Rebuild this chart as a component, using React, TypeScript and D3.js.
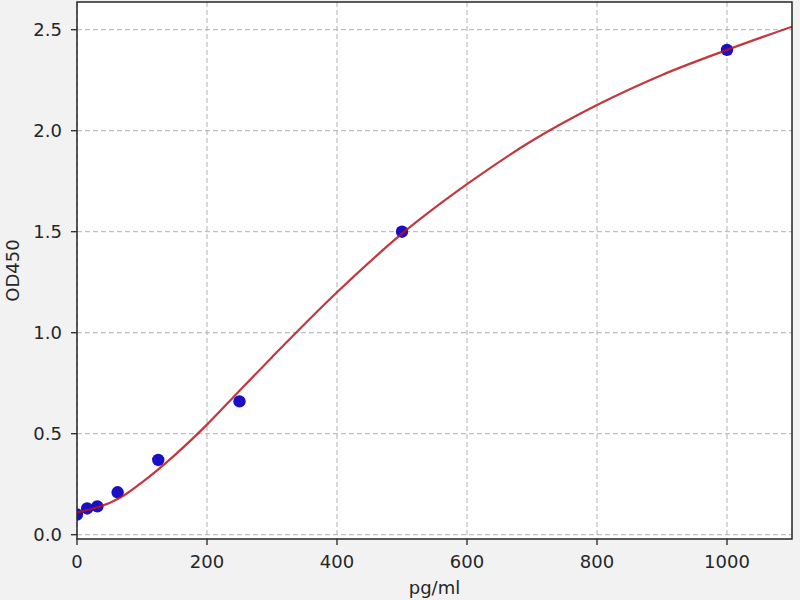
import React, { useEffect, useRef } from "react";
import * as d3 from "d3";

// Standard points (concentration pg/ml, OD450)
const concentrations = [0, 15.6, 31.25, 62.5, 125, 250, 500, 1000];
const odValues = [0.1, 0.13, 0.14, 0.21, 0.37, 0.66, 1.5, 2.4];

// Fitted curve
const curveX = [0, 25, 50, 75, 100, 150, 200, 250, 300, 400, 500, 600, 700, 800, 900, 1000, 1100];
const curveY = [0.11, 0.13, 0.157, 0.2, 0.259, 0.393, 0.545, 0.713, 0.879, 1.2, 1.49, 1.735, 1.95, 2.127, 2.276, 2.4, 2.515];

const xTicks = [0, 200, 400, 600, 800, 1000];
const yTicks = [0.0, 0.5, 1.0, 1.5, 2.0, 2.5];
const xLabel = "pg/ml";
const yLabel = "OD450";

export default function App() {
  const ref = useRef<SVGSVGElement | null>(null);

  useEffect(() => {
    const svg = d3.select(ref.current);
    svg.selectAll("*").remove();
    const W = 800, H = 600;
    const left = 77, right = 792, top = 2, bottom = 539;
    const font = "DejaVu Sans, sans-serif";
    const fs = 18;

    const x = d3.scaleLinear().domain([0, 1100]).range([left, right]);
    const y = d3.scaleLinear().domain([0, 2.5]).range([534.7, 29.7]);

    svg.append("rect").attr("width", W).attr("height", H).attr("fill", "#f2f2f2");
    svg.append("rect").attr("x", left).attr("y", top).attr("width", right - left).attr("height", bottom - top).attr("fill", "#ffffff");

    const defs = svg.append("defs");
    defs.append("clipPath").attr("id", "plotclip").append("rect")
      .attr("x", left).attr("y", top).attr("width", right - left).attr("height", bottom - top);

    // grid
    const g = svg.append("g");
    g.selectAll("line.gx").data(xTicks).enter().append("line")
      .attr("x1", d => x(d)).attr("x2", d => x(d)).attr("y1", top).attr("y2", bottom)
      .attr("stroke", "#b0b0b0").attr("stroke-width", 1).attr("stroke-dasharray", "5,3");
    g.selectAll("line.gy").data(yTicks).enter().append("line")
      .attr("x1", left).attr("x2", right).attr("y1", d => y(d)).attr("y2", d => y(d))
      .attr("stroke", "#b0b0b0").attr("stroke-width", 1).attr("stroke-dasharray", "5,3");

    // points
    const pts = concentrations.map((c, i) => [c, odValues[i]] as [number, number]);
    svg.append("g").attr("clip-path", "url(#plotclip)").selectAll("circle").data(pts).enter().append("circle")
      .attr("cx", d => x(d[0])).attr("cy", d => y(d[1])).attr("r", 6.2).attr("fill", "#1a0fc4");

    // curve
    const cpts = curveX.map((c, i) => [c, curveY[i]] as [number, number]);
    const line = d3.line<[number, number]>().x(d => x(d[0])).y(d => y(d[1])).curve(d3.curveMonotoneX);
    svg.append("path").attr("d", line(cpts) as string).attr("clip-path", "url(#plotclip)")
      .attr("fill", "none").attr("stroke", "#b8141c").attr("stroke-width", 2.2).attr("stroke-opacity", 0.85);

    // spines
    svg.append("rect").attr("x", left).attr("y", top).attr("width", right - left).attr("height", bottom - top)
      .attr("fill", "none").attr("stroke", "#262626").attr("stroke-width", 1.5);

    // ticks
    const tk = svg.append("g");
    xTicks.forEach(t => {
      tk.append("line").attr("x1", x(t)).attr("x2", x(t)).attr("y1", bottom).attr("y2", bottom + 6)
        .attr("stroke", "#262626").attr("stroke-width", 1.3);
      tk.append("text").attr("x", x(t)).attr("y", 568).attr("text-anchor", "middle")
        .attr("font-family", font).attr("font-size", fs).attr("fill", "#262626").text(String(t));
    });
    yTicks.forEach(t => {
      tk.append("line").attr("x1", left - 6).attr("x2", left).attr("y1", y(t)).attr("y2", y(t))
        .attr("stroke", "#262626").attr("stroke-width", 1.3);
      tk.append("text").attr("x", left - 15).attr("y", y(t) + 6.5).attr("text-anchor", "end")
        .attr("font-family", font).attr("font-size", fs).attr("fill", "#262626").text(t.toFixed(1));
    });

    svg.append("text").attr("x", (left + right) / 2).attr("y", 594).attr("text-anchor", "middle")
      .attr("font-family", font).attr("font-size", fs).attr("fill", "#262626").text(xLabel);
    svg.append("text").attr("transform", `translate(19, ${(top + bottom) / 2}) rotate(-90)`)
      .attr("text-anchor", "middle").attr("font-family", font).attr("font-size", fs).attr("fill", "#262626").text(yLabel);
  }, []);

  return (
    <svg ref={ref} width={800} height={600} style={{ position: "absolute", left: 0, top: 0, display: "block" }} />
  );
}
